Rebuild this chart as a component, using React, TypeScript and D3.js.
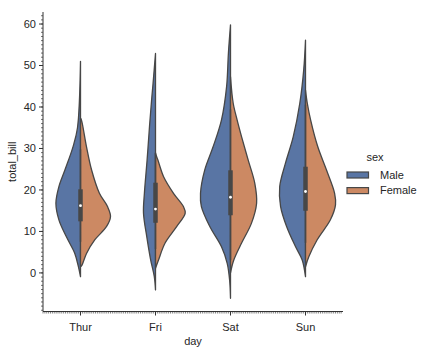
import React, { useEffect, useRef } from "react";
import * as d3 from "d3";

const days = ["Thur", "Fri", "Sat", "Sun"];
const sexes = ["Male", "Female"];
const yTicks = [0, 10, 20, 30, 40, 50, 60];

// density profiles: total_bill value, relative half-width
const maleBill = [
  [51, 35, 30.4, 24.8, 20.8, 16.8, 12.8, 8.7, 4.7, 1.5, -0.9],
  [52.9, 45.8, 41.7, 35.3, 27.2, 19.2, 14.4, 8.7, 3.1, -0.9, -4.1],
  [59.8, 52.9, 44.9, 36.9, 30.4, 24.8, 19.2, 16, 11.2, 6.3, 2.3, -1.7, -6.1],
  [56.1, 48.9, 40.9, 32.8, 26.4, 20.8, 16, 11.2, 6.3, 3.1, -0.9],
];
const maleDensity = [
  [0, 0.1, 0.25, 0.52, 0.72, 0.82, 0.72, 0.47, 0.19, 0.07, 0],
  [0, 0.08, 0.13, 0.2, 0.28, 0.37, 0.4, 0.29, 0.16, 0.04, 0],
  [0, 0.07, 0.13, 0.3, 0.58, 0.86, 1.0, 0.97, 0.69, 0.3, 0.11, 0.03, 0],
  [0, 0.06, 0.19, 0.41, 0.67, 0.86, 0.83, 0.63, 0.33, 0.11, 0],
];
const femaleBill = [
  [37.3, 36.9, 30.4, 24.8, 19.2, 16, 13.6, 11.2, 8, 4.7, 1.9, 1.5],
  [28.8, 27.2, 23.2, 19.2, 16, 14.4, 11.2, 7.2, 3.1, 1.1],
  [47.3, 40.9, 36.9, 32.8, 27.2, 21.6, 16.8, 12, 7.2, 3.1, 0],
  [44.1, 40.9, 36.9, 30.4, 24.8, 19.2, 16.4, 12.8, 8, 3.9, 1.5],
];
const femaleDensity = [
  [0, 0.03, 0.2, 0.37, 0.63, 0.9, 1.0, 0.87, 0.48, 0.2, 0.05, 0],
  [0, 0.08, 0.27, 0.6, 0.93, 0.99, 0.71, 0.32, 0.1, 0],
  [0, 0.09, 0.22, 0.37, 0.59, 0.81, 0.87, 0.7, 0.37, 0.11, 0],
  [0, 0.06, 0.17, 0.41, 0.7, 0.97, 1.0, 0.83, 0.39, 0.11, 0],
];

// box stats per day (both sexes together)
const q1 = [12.44, 12.09, 13.9, 14.99];
const median = [16.2, 15.38, 18.24, 19.63];
const q3 = [20.16, 21.75, 24.74, 25.6];
const whiskerLo = [7.51, 5.75, 3.07, 7.25];
const whiskerHi = [29.8, 28.97, 39.42, 40.55];

const colors = ["#5975a4", "#cc8963"];
const gray = "#474747";
const textColor = "#262626";
const font = "'Liberation Sans', Arial, sans-serif";

const App = () => {
  const ref = useRef<SVGSVGElement>(null);

  useEffect(() => {
    const svg = d3.select(ref.current);
    svg.selectAll("*").remove();

    const left = 43,
      right = 343,
      top = 12,
      bottom = 311.5;

    const x = d3.scaleLinear().domain([-0.5, 3.5]).range([left, right]);
    const y = d3.scaleLinear().domain([-9.3, 62.9]).range([bottom, top]);
    const w = d3.scaleLinear().domain([0, 1]).range([0, x(0.4) - x(0)]);

    const g = svg.append("g");

    const halves = [
      { bills: maleBill, dens: maleDensity, side: -1 },
      { bills: femaleBill, dens: femaleDensity, side: 1 },
    ];

    days.forEach((day, i) => {
      const cx = x(i);
      halves.forEach((h, k) => {
        const pts = h.bills[i].map((v, j) => [v, h.dens[i][j]]);
        const area = d3
          .area<number[]>()
          .y((d) => y(d[0]))
          .x0(cx)
          .x1((d) => cx + h.side * w(d[1]))
          .curve(d3.curveCatmullRom);
        g.append("path")
          .attr("d", area(pts))
          .attr("fill", colors[k])
          .attr("stroke", gray)
          .attr("stroke-width", 1.3)
          .attr("stroke-linejoin", "round");
      });

      g.append("line")
        .attr("x1", cx)
        .attr("x2", cx)
        .attr("y1", y(whiskerLo[i]))
        .attr("y2", y(whiskerHi[i]))
        .attr("stroke", gray)
        .attr("stroke-width", 1.5);
      g.append("line")
        .attr("x1", cx)
        .attr("x2", cx)
        .attr("y1", y(q1[i]))
        .attr("y2", y(q3[i]))
        .attr("stroke", gray)
        .attr("stroke-width", 4.5);
      g.append("circle")
        .attr("cx", cx)
        .attr("cy", y(median[i]))
        .attr("r", 1.4)
        .attr("fill", "white");
    });

    // spines
    const axisG = svg.append("g").attr("stroke", "#333").attr("stroke-width", 1);
    axisG.append("line").attr("x1", left).attr("x2", left).attr("y1", top).attr("y2", bottom);
    axisG.append("line").attr("x1", left).attr("x2", right).attr("y1", bottom).attr("y2", bottom);

    // minor ticks
    d3.range(-9, 63, 1).forEach((v) => {
      axisG
        .append("line")
        .attr("x1", left - 2)
        .attr("x2", left)
        .attr("y1", y(v))
        .attr("y2", y(v))
        .attr("stroke-width", 0.7);
    });
    d3.range(-0.5, 3.5, 0.025).forEach((v) => {
      axisG
        .append("line")
        .attr("x1", x(v))
        .attr("x2", x(v))
        .attr("y1", bottom)
        .attr("y2", bottom + 2)
        .attr("stroke-width", 0.6);
    });

    // major ticks + labels
    yTicks.forEach((t) => {
      axisG
        .append("line")
        .attr("x1", left - 4)
        .attr("x2", left)
        .attr("y1", y(t))
        .attr("y2", y(t));
      svg
        .append("text")
        .attr("x", left - 7)
        .attr("y", y(t))
        .attr("dy", "0.35em")
        .attr("text-anchor", "end")
        .attr("font-size", 11)
        .attr("font-family", font)
        .attr("fill", textColor)
        .text(t);
    });
    days.forEach((d, i) => {
      axisG
        .append("line")
        .attr("x1", x(i))
        .attr("x2", x(i))
        .attr("y1", bottom)
        .attr("y2", bottom + 4);
      svg
        .append("text")
        .attr("x", x(i))
        .attr("y", bottom + 19)
        .attr("text-anchor", "middle")
        .attr("font-size", 11)
        .attr("font-family", font)
        .attr("fill", textColor)
        .text(d);
    });

    svg
      .append("text")
      .attr("x", (left + right) / 2)
      .attr("y", 345)
      .attr("text-anchor", "middle")
      .attr("font-size", 11)
      .attr("font-family", font)
      .attr("fill", textColor)
      .text("day");
    svg
      .append("text")
      .attr("transform", `translate(16,${(top + bottom) / 2}) rotate(-90)`)
      .attr("text-anchor", "middle")
      .attr("font-size", 11)
      .attr("font-family", font)
      .attr("fill", textColor)
      .text("total_bill");

    // legend
    const lg = svg.append("g").attr("transform", "translate(347,150)");
    lg.append("text")
      .attr("x", 28)
      .attr("y", 11)
      .attr("text-anchor", "middle")
      .attr("font-size", 11)
      .attr("font-family", font)
      .attr("fill", textColor)
      .text("sex");
    sexes.forEach((s, k) => {
      lg.append("rect")
        .attr("x", 0)
        .attr("y", 22 + k * 15.6)
        .attr("width", 21.5)
        .attr("height", 6)
        .attr("fill", colors[k])
        .attr("stroke", gray)
        .attr("stroke-width", 1.2);
      lg.append("text")
        .attr("x", 33)
        .attr("y", 25 + k * 15.6)
        .attr("dy", "0.35em")
        .attr("font-size", 11)
        .attr("font-family", font)
        .attr("fill", textColor)
        .text(s);
    });
  }, []);

  return (
    <svg
      ref={ref}
      width={424}
      height={352}
      style={{ position: "absolute", left: 0, top: 0, background: "white" }}
    />
  );
};

export default App;
